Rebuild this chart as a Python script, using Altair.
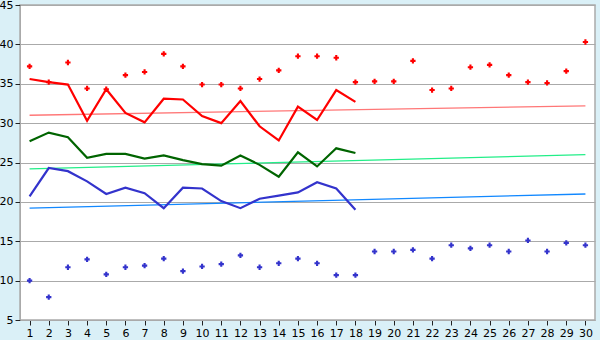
import altair as alt
import pandas as pd

days = list(range(1, 31))
max_pts = [37.2, 35.2, 37.7, 34.4, 34.3, 36.1, 36.5, 38.8, 37.2, 34.9,
           34.9, 34.4, 35.6, 36.7, 38.5, 38.5, 38.3, 35.2, 35.3, 35.3,
           37.9, 34.2, 34.4, 37.1, 37.4, 36.1, 35.2, 35.1, 36.6, 40.3]
min_pts = [10.0, 7.9, 11.7, 12.7, 10.8, 11.7, 11.9, 12.8, 11.2, 11.8,
           12.1, 13.2, 11.7, 12.2, 12.8, 12.2, 10.7, 10.7, 13.7, 13.7,
           13.9, 12.8, 14.5, 14.1, 14.5, 13.7, 15.1, 13.7, 14.8, 14.5]
line_days = list(range(1, 19))
red_line = [35.6, 35.2, 34.9, 30.3, 34.3, 31.3, 30.1, 33.1, 33.0, 30.9,
            30.0, 32.8, 29.6, 27.8, 32.1, 30.4, 34.2, 32.7]
green_line = [27.7, 28.8, 28.2, 25.6, 26.1, 26.1, 25.5, 25.9, 25.3, 24.8,
              24.6, 25.9, 24.7, 23.2, 26.3, 24.5, 26.8, 26.2]
blue_line = [20.7, 24.3, 23.9, 22.6, 21.0, 21.8, 21.1, 19.2, 21.8, 21.7,
             20.1, 19.2, 20.4, 20.8, 21.2, 22.5, 21.7, 19.0]
trend_days = [1, 30]
red_trend = [31.0, 32.2]
green_trend = [24.2, 26.0]
blue_trend = [19.2, 21.0]

x_scale = alt.Scale(domain=[0.5, 30.5], nice=False, zero=False)
y_scale = alt.Scale(domain=[5, 45], nice=False, zero=False)

x_axis = alt.Axis(values=days, format="d", labelAngle=0, grid=False,
                  domainColor="#aaaaaa", tickColor="#222222", tickSize=5,
                  labelColor="#000000", labelFontSize=11, labelFont="DejaVu Sans",
                  labelPadding=2, title=None)
y_axis = alt.Axis(values=list(range(5, 50, 5)), grid=True, gridColor="#aaaaaa",
                  domainColor="#aaaaaa", tickColor="#222222", tickSize=5,
                  labelColor="#000000", labelFontSize=11, labelFont="DejaVu Sans",
                  labelPadding=2, title=None)

pts = pd.DataFrame({"day": days * 2,
                    "v": max_pts + min_pts,
                    "s": ["max"] * 30 + ["min"] * 30})
lines = pd.DataFrame({"day": line_days * 3,
                      "v": red_line + green_line + blue_line,
                      "s": ["r"] * 18 + ["g"] * 18 + ["b"] * 18})
trends = pd.DataFrame({"day": trend_days * 3,
                       "v": red_trend + green_trend + blue_trend,
                       "s": ["r"] * 2 + ["g"] * 2 + ["b"] * 2})

base_x = alt.X("day:Q", scale=x_scale, axis=x_axis)
base_y = alt.Y("v:Q", scale=y_scale, axis=y_axis)

trend_layer = alt.Chart(trends).mark_line(strokeWidth=1.3).encode(
    x=base_x, y=base_y, detail="s:N",
    color=alt.Color("s:N", scale=alt.Scale(domain=["r", "g", "b"],
                                           range=["#ff7777", "#22ee88", "#1188ff"]),
                    legend=None))
line_layer = alt.Chart(lines).mark_line(strokeWidth=2.2).encode(
    x=base_x, y=base_y, detail="s:N",
    color=alt.Color("s:N", scale=alt.Scale(domain=["r", "g", "b"],
                                           range=["#ff0000", "#006400", "#3333cc"]),
                    legend=None))
pt_layer = alt.Chart(pts).mark_point(shape="cross", filled=True, size=28, opacity=1).encode(
    x=base_x, y=base_y,
    color=alt.Color("s:N", scale=alt.Scale(domain=["max", "min"],
                                           range=["#ff0000", "#3333cc"]),
                    legend=None))

chart = alt.layer(trend_layer, line_layer, pt_layer).resolve_scale(
    color="independent"
).properties(
    width=575, height=315,
    background="#daf0f7",
    padding={"left": 20, "top": 5, "right": 5, "bottom": 20},
    autosize=alt.AutoSizeParams(type="none"),
).configure_view(
    fill="#ffffff", stroke="#aaaaaa", strokeWidth=1.5
)

chart.save("out.html", embed_options={"renderer": "svg", "actions": False})
